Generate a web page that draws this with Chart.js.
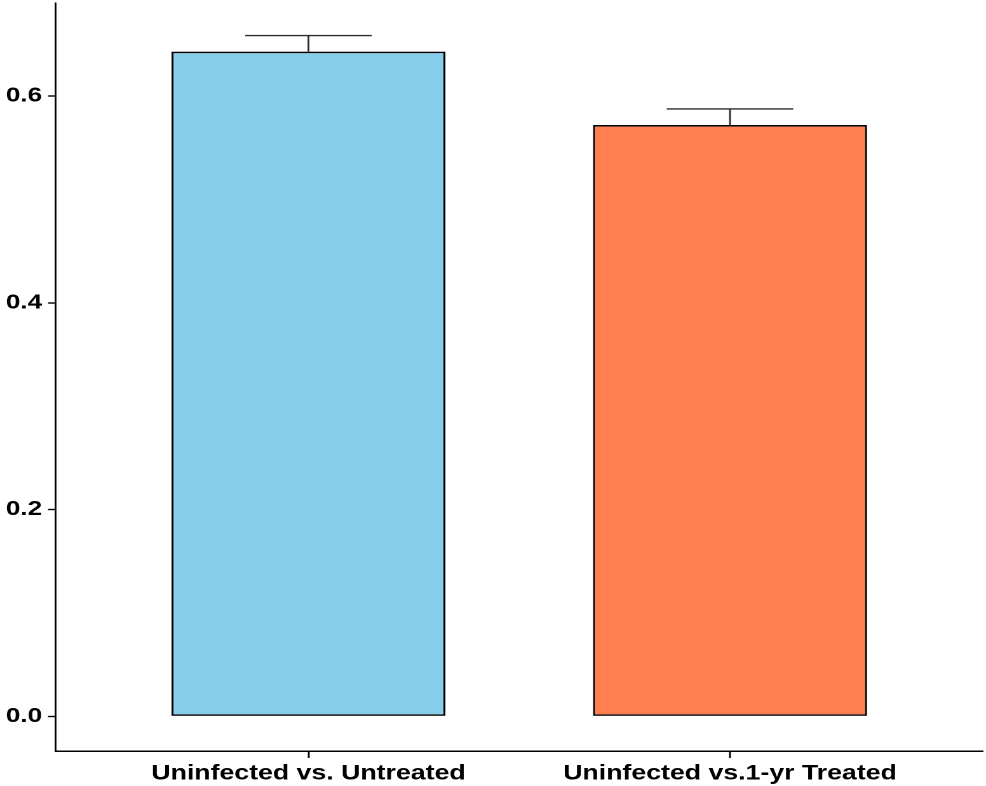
<!DOCTYPE html>
<html>
<head>
<meta charset="utf-8">
<script src="https://cdn.jsdelivr.net/npm/chart.js@4/dist/chart.umd.min.js"></script>
<style>
  html, body { margin: 0; padding: 0; background: #fff; overflow: hidden; }
  /* the plot is laid out in a narrower frame and widened to the page width */
  #frame {
    position: absolute; left: 0; top: 0;
    width: 776px; height: 786px;
    transform: scaleX(1.2706); transform-origin: 0 0;
  }
</style>
</head>
<body>
<div id="frame"><canvas id="chart"></canvas></div>
<script>
// Group comparisons and their mean values with standard errors
const categories = ['Uninfected vs. Untreated', 'Uninfected vs.1-yr Treated'];
const means = [0.643, 0.572];
const stdErr = [0.0155, 0.0155];
const barColors = ['#87CEEB', '#FF7F50'];
const yTicks = [0, 0.2, 0.4, 0.6];

const FONT = { family: '"Liberation Sans", Arial, sans-serif', weight: 'bold', size: 21 };

// Upper error bars drawn over each bar with a horizontal cap
const errorBars = {
  id: 'errorBars',
  afterDatasetsDraw(chart) {
    const { ctx, scales: { x, y } } = chart;
    const capHalf = 0.15;
    ctx.save();
    ctx.strokeStyle = '#2b2b2b';
    ctx.lineWidth = 1.4;
    means.forEach((m, i) => {
      const pos = i + 1;
      const cx = x.getPixelForValue(pos);
      const yBase = y.getPixelForValue(m);
      const yTop = y.getPixelForValue(m + stdErr[i]);
      const left = x.getPixelForValue(pos - capHalf);
      const right = x.getPixelForValue(pos + capHalf);
      ctx.beginPath();
      ctx.moveTo(cx, yBase);
      ctx.lineTo(cx, yTop);
      ctx.moveTo(left, yTop);
      ctx.lineTo(right, yTop);
      ctx.stroke();
    });
    ctx.restore();
  }
};

new Chart(document.getElementById('chart'), {
  type: 'bar',
  data: {
    datasets: [{
      data: means.map((v, i) => ({ x: i + 1, y: v })),
      backgroundColor: barColors,
      borderColor: '#000000',
      borderWidth: 1.6,
      borderSkipped: false,
      barPercentage: 0.65,
      categoryPercentage: 1
    }]
  },
  options: {
    responsive: true,
    maintainAspectRatio: false,
    devicePixelRatio: 2,
    animation: false,
    layout: { padding: { top: 3, right: 2.4, left: 0, bottom: 0 } },
    plugins: { legend: { display: false }, tooltip: { enabled: false } },
    scales: {
      x: {
        type: 'linear',
        min: 0.4,
        max: 2.6,
        offset: false,
        afterBuildTicks: (scale) => { scale.ticks = categories.map((_, i) => ({ value: i + 1 })); },
        afterFit: (scale) => { scale.height = 35; scale.paddingLeft = 0; scale.paddingRight = 0; },
        grid: { offset: false, drawOnChartArea: false, drawTicks: true, tickLength: 7, tickColor: '#000', tickWidth: 1.4 },
        border: { display: true, color: '#000', width: 1.5 },
        ticks: {
          autoSkip: false, maxRotation: 0, minRotation: 0,
          padding: 3,
          color: '#000',
          font: FONT,
          callback: (value, index) => categories[index]
        }
      },
      y: {
        min: -0.0335,
        max: 0.690,
        afterBuildTicks: (scale) => { scale.ticks = yTicks.map(v => ({ value: v })); },
        afterFit: (scale) => { scale.width = 43.7; scale.paddingTop = 0; scale.paddingBottom = 0; },
        grid: { drawOnChartArea: false, drawTicks: true, tickLength: 5.9, tickColor: '#000', tickWidth: 1.4 },
        border: { display: true, color: '#000', width: 1.4 },
        ticks: {
          padding: 4.7,
          color: '#000',
          font: { ...FONT, size: 20.5 },
          callback: (value) => value.toFixed(1)
        }
      }
    }
  },
  plugins: [errorBars]
});
</script>
</body>
</html>
